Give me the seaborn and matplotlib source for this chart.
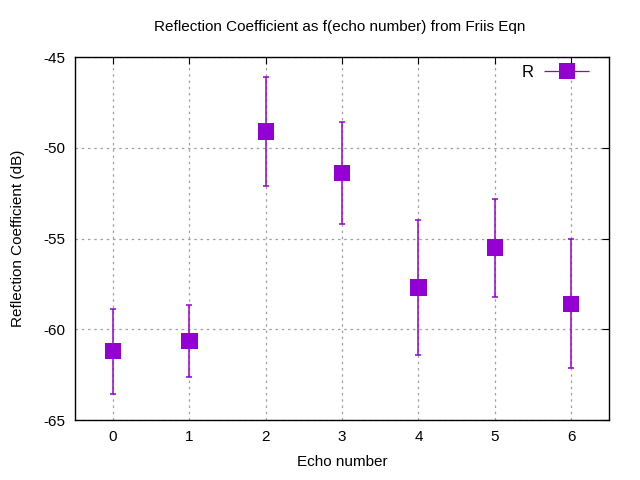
import numpy as np
import pandas as pd
import matplotlib
matplotlib.use("Agg")
import matplotlib.pyplot as plt
from matplotlib.legend_handler import HandlerErrorbar
import seaborn as sns

echo = [0, 1, 2, 3, 4, 5, 6]
refl = [-61.2, -60.65, -49.1, -51.4, -57.7, -55.5, -58.6]
err_top = [-58.9, -58.65, -46.1, -48.6, -54.0, -52.8, -55.0]
err_bot = [-63.55, -62.65, -52.1, -54.2, -61.4, -58.2, -62.15]

sns.set_style("white", {'text.color': 'black', 'xtick.color': 'black',
                        'ytick.color': 'black', 'axes.labelcolor': 'black'})
plt.rcParams['font.family'] = ['Liberation Sans', 'DejaVu Sans']
plt.rcParams['axes.unicode_minus'] = False

df = pd.DataFrame({'echo': echo, 'R': refl})
lo = np.array(refl) - np.array(err_bot)
hi = np.array(err_top) - np.array(refl)

fig = plt.figure(figsize=(6.4, 4.8), dpi=100)
ax = fig.add_axes([0.117, 0.125, 0.835, 0.756])
color = '#9400D3'

ax.errorbar(df['echo'], df['R'], yerr=[lo, hi], fmt='none', ecolor=color,
            elinewidth=1.1, capsize=2.5, capthick=1.1, zorder=2)
sns.scatterplot(data=df, x='echo', y='R', marker='s', s=140, color=color,
                edgecolor='none', ax=ax, zorder=3, legend=False)

# legend handle styled like gnuplot's errorbar key (dummy point outside the view)
h = ax.errorbar([100], [0], xerr=[1], fmt='s', color=color, markersize=11,
                markeredgewidth=0, elinewidth=0.9, capsize=3, capthick=0.9)
leg = ax.legend([h], ['R'], loc='upper right', frameon=False, markerfirst=False,
                fontsize=12, handlelength=3.0, handletextpad=0.5,
                borderaxespad=0.3, bbox_to_anchor=(0.989, 1.011),
                handler_map={type(h): HandlerErrorbar(xerr_size=1.35)})

ax.set_xlim(-0.5, 6.5)
ax.set_ylim(-65, -45)
ax.set_xticks(echo)
ax.set_yticks([-65, -60, -55, -50, -45])
ax.grid(True, linestyle=(0, (2, 3)), color='#a0a0a0', linewidth=0.9)
ax.tick_params(direction='in', top=True, right=True, length=5, labelsize=11, pad=7)
for s in ax.spines.values():
    s.set_color('black')
    s.set_linewidth(1.0)

ax.set_xlabel('Echo number', fontsize=11, labelpad=8)
ax.set_ylabel('Reflection Coefficient (dB)', fontsize=11, labelpad=13)
fig.text(0.53, 0.944, 'Reflection Coefficient as f(echo number) from Friis Eqn',
         ha='center', va='center', fontsize=11)

fig.savefig('out.png', dpi=100)
